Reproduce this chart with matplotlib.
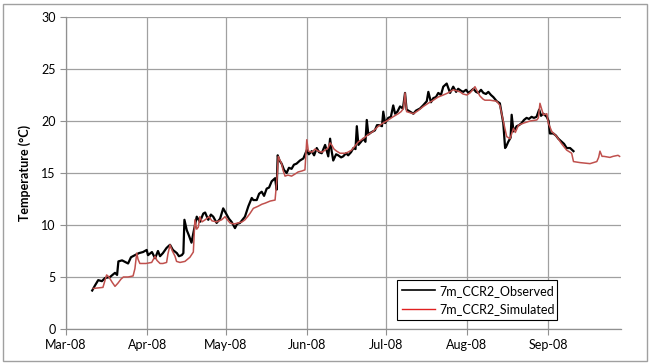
import numpy as np
import matplotlib
matplotlib.use('Agg')
from matplotlib import pyplot as plt
import matplotlib.dates as mdates
from matplotlib.lines import Line2D
from matplotlib.patches import Rectangle

plt.rcParams['font.family'] = ['Lato', 'DejaVu Sans']

# days after 1 Mar 2008, temperature in degC
obs_day = [10.0, 11.1, 12.3, 13.7, 14.9, 16.8, 18.7, 19.5, 20.0, 21.4, 23.7, 24.8, 26.3, 27.9,
           29.4, 30.8, 31.3, 32.8, 34.0, 35.1, 35.9, 37.0, 38.4, 39.7, 40.8, 42.3, 43.1, 44.2,
           44.8, 45.2, 46.1, 46.9, 47.9, 48.9, 49.9, 51.1, 52.4, 53.1, 54.3, 55.3, 56.2, 57.5,
           58.8, 60.0, 61.3, 62.2, 63.2, 64.5, 65.3, 66.4, 68.3, 69.6, 70.9, 71.5, 72.8, 73.7,
           74.7, 75.6, 76.6, 77.5, 78.5, 79.8, 80.4, 80.8, 81.5, 82.3, 83.2, 84.2, 85.1, 86.1,
           87.0, 88.0, 89.3, 90.6, 91.9, 92.7, 93.8, 94.7, 95.7, 96.6, 97.6, 98.9, 100.1, 100.8,
           101.4, 102.0, 103.1, 103.9, 105.0, 105.8, 106.9, 107.7, 108.8, 109.7, 110.5, 111.0,
           111.6, 112.6, 113.5, 114.3, 114.8, 115.4, 116.4, 117.9, 118.7, 119.8, 120.6, 121.1,
           121.8, 123.0, 124.0, 124.9, 125.6, 126.5, 127.5, 128.6, 129.4, 130.0, 131.3, 132.6,
           133.6, 135.1, 136.3, 137.7, 138.3, 139.3, 140.2, 141.2, 142.1, 143.1, 144.0, 145.3,
           146.6, 147.8, 148.9, 149.7, 150.8, 151.6, 152.7, 153.6, 154.6, 155.5, 156.5, 157.4,
           158.4, 159.3, 160.3, 161.2, 162.2, 163.1, 164.4, 165.6, 166.9, 167.6, 168.1, 168.8,
           169.7, 170.1, 170.8, 172.0, 172.9, 173.9, 174.8, 175.8, 176.7, 177.7, 178.6, 179.6,
           180.6, 181.3, 182.2, 183.5, 184.2, 184.7, 186.0, 187.0, 187.9, 189.2, 190.1, 191.1,
           192.4, 193.7]
obs_temp = [3.7, 4.2, 4.7, 4.6, 4.9, 5.0, 5.4, 5.2, 6.5, 6.6, 6.3, 6.9, 7.1, 7.3,
            7.4, 7.6, 7.1, 7.4, 6.8, 7.5, 7.0, 7.3, 7.8, 8.1, 7.6, 7.3, 7.0, 7.1,
            7.3, 10.5, 9.5, 9.0, 8.3, 9.6, 10.8, 10.3, 11.1, 11.2, 10.5, 11.0, 10.8, 10.2,
            10.6, 11.6, 11.0, 10.6, 10.3, 9.7, 10.1, 10.2, 10.8, 11.8, 12.6, 12.4, 12.4, 13.0,
            13.2, 12.8, 13.5, 13.6, 14.2, 14.5, 13.4, 16.7, 16.2, 15.9, 15.3, 15.0, 15.5, 15.4,
            15.8, 15.9, 16.2, 16.4, 17.2, 16.8, 17.1, 16.7, 17.4, 17.0, 16.9, 17.7, 16.6, 18.3,
            17.1, 16.2, 16.8, 16.7, 16.5, 16.6, 16.9, 16.7, 17.0, 17.4, 17.3, 19.5,
            17.7, 18.0, 18.3, 18.0, 20.1, 18.7, 18.9, 19.1, 19.6, 19.6, 19.5, 20.9,
            19.8, 20.3, 20.4, 21.5, 20.7, 20.9, 21.4, 21.2, 22.7, 21.1, 20.9, 20.7,
            21.0, 21.2, 21.5, 21.9, 22.8, 21.8, 22.2, 22.3, 22.7, 22.5, 23.3, 23.6,
            22.7, 23.3, 22.8, 23.1, 22.9, 22.8, 23.0, 22.7, 22.9, 23.1, 22.8, 22.7,
            23.0, 22.7, 22.6, 22.8, 22.5, 22.3, 21.9, 21.7, 19.8, 17.4, 17.6, 18.0,
            18.4, 20.6, 19.0, 19.5, 19.6, 19.8, 20.1, 20.3, 20.2, 20.4, 20.3, 20.4,
            21.1, 20.5, 20.7, 20.4, 20.0, 18.8, 18.8, 18.6, 18.3, 18.0, 17.8, 17.4,
            17.4, 17.1]

sim_day = [10.4, 14.1, 15.5, 16.4, 17.6, 18.7, 19.8, 21.0, 21.9, 23.7, 25.6, 26.3, 27.0, 27.5,
           28.2, 30.5, 32.7, 34.0, 34.7, 35.9, 37.0, 38.4, 38.9, 39.7, 40.6, 41.6, 42.2, 43.5,
           45.4, 47.3, 48.6, 49.2, 49.9, 50.5, 51.1, 51.9, 53.1, 54.6, 55.7, 57.5, 59.4, 60.7,
           61.6, 62.6, 64.1, 65.8, 67.2, 68.3, 69.3, 70.2, 71.5, 73.3, 74.8, 76.0, 77.9, 79.8,
           80.7, 81.0, 81.7, 82.3, 82.8, 83.6, 84.7, 86.1, 87.4, 88.6, 90.1, 91.2, 91.9, 92.5,
           93.9, 95.0, 96.3, 97.7, 98.9, 100.0, 100.8, 101.4, 102.3, 103.3, 104.6, 106.5, 107.6,
           109.0, 110.3, 111.6, 113.4, 115.4, 117.2, 119.2, 121.0, 123.0, 124.8, 126.8, 127.9,
           128.8, 129.4, 130.0, 131.3, 132.6, 134.4, 136.4, 138.2, 140.2, 142.0, 144.0, 145.8,
           147.8, 149.2, 150.4, 151.5, 153.0, 154.2, 155.2, 156.1, 157.1, 158.0, 159.2, 159.9,
           161.8, 164.4, 165.6, 166.9, 168.2, 169.5, 170.8, 171.5, 172.7, 174.7, 177.1, 179.7,
           180.3, 180.9, 182.2, 183.5, 184.1, 185.4, 187.3, 189.2, 191.1, 193.0, 193.7, 196.2,
           200.0, 202.6, 203.3, 203.8, 204.6, 205.3, 207.6, 208.8, 210.7, 211.3]
sim_temp = [3.9, 4.0, 5.2, 5.0, 4.5, 4.1, 4.4, 4.8, 5.0, 5.0, 5.1, 5.8, 7.3, 6.7,
            6.3, 6.3, 6.4, 7.0, 6.6, 6.3, 6.3, 6.4, 7.2, 8.1, 7.5, 7.0, 6.5, 6.4,
            6.5, 6.9, 7.4, 10.5, 9.6, 9.8, 10.8, 10.3, 10.5, 10.8, 10.4, 10.3, 10.5, 10.8,
            10.5, 10.2, 10.1, 10.2, 10.3, 10.5, 10.8, 11.1, 11.6, 11.8, 12.0, 12.1, 12.3, 12.4,
            15.0, 16.6, 16.2, 15.9, 15.3, 14.7, 14.8, 14.7, 14.9, 15.1, 15.2, 15.3, 18.2, 17.1,
            17.0, 17.3, 17.1, 17.0, 17.2, 17.4, 17.9, 17.7, 17.3, 17.1, 16.9, 16.9, 17.0,
            17.2, 17.6, 18.0, 18.3, 18.7, 19.0, 19.5, 19.8, 20.1, 20.4, 20.7, 20.9,
            21.2, 22.7, 20.9, 20.8, 20.7, 21.0, 21.4, 21.7, 22.0, 22.3, 22.5, 22.7,
            23.0, 22.9, 22.8, 22.6, 22.5, 22.7, 23.0, 23.3, 22.8, 22.4, 22.1, 22.0,
            22.0, 21.9, 21.5, 20.0, 18.5, 18.3, 19.3, 18.9, 19.6, 19.8, 20.0, 20.1,
            20.3, 21.7, 20.6, 20.7, 19.8, 19.0, 18.5, 17.8, 17.2, 16.9, 16.1, 16.0,
            15.9, 16.1, 16.5, 17.1, 16.6, 16.6, 16.5, 16.6, 16.7, 16.6]

start = np.datetime64('2008-03-01T00:00')
def to_dates(days):
    return start + (np.array(days) * 24 * 60).astype('timedelta64[m]')

obs_dates = to_dates(obs_day)
sim_dates = to_dates(sim_day)

fig = plt.figure(figsize=(6.51, 3.64), dpi=100)
ax = fig.add_axes([66/651, 1 - 329/364, (621 - 66)/651, (329 - 17)/364])

ax.plot(obs_dates, obs_temp, color='black', lw=1.6, zorder=3)
ax.plot(sim_dates, sim_temp, color='#c0504d', lw=1.1, zorder=4)

ax.set_xlim(np.datetime64('2008-03-01'), np.datetime64('2008-09-28T20:00'))
ax.set_ylim(0, 30)
ax.set_yticks(np.arange(0, 31, 5))
ax.xaxis.set_major_locator(mdates.MonthLocator())
ax.xaxis.set_major_formatter(mdates.DateFormatter('%b-%y'))

ax.grid(True, color='#a0a0a0', lw=0.9)
ax.set_axisbelow(True)
for s in ['top', 'right']:
    ax.spines[s].set_visible(False)
for s in ['left', 'bottom']:
    ax.spines[s].set_color('#909090')
    ax.spines[s].set_linewidth(0.9)
ax.tick_params(axis='both', length=4, colors='#909090', labelcolor='black', labelsize=9)

ax.set_ylabel('Temperature (°C)', fontsize=9, fontweight='bold', labelpad=7)

handles = [Line2D([], [], color='black', lw=1.2), Line2D([], [], color='#e02020', lw=1.0)]
leg = ax.legend(handles, ['7m_CCR2_Observed', '7m_CCR2_Simulated'], loc='lower left',
                bbox_to_anchor=((397 - 66)/555, (329 - 320)/312, (557 - 397)/555, (320 - 275)/312),
                mode='expand', fancybox=False, framealpha=1, edgecolor='black', fontsize=9,
                handlelength=2.6, borderaxespad=0, handletextpad=0.4)
leg.get_frame().set_linewidth(0.8)

fig.patches.append(Rectangle((3/651, 3/364), 644/651, 357/364, transform=fig.transFigure,
                             fill=False, edgecolor='#a0a0a0', lw=1.0))

fig.savefig('out.png', dpi=100)
